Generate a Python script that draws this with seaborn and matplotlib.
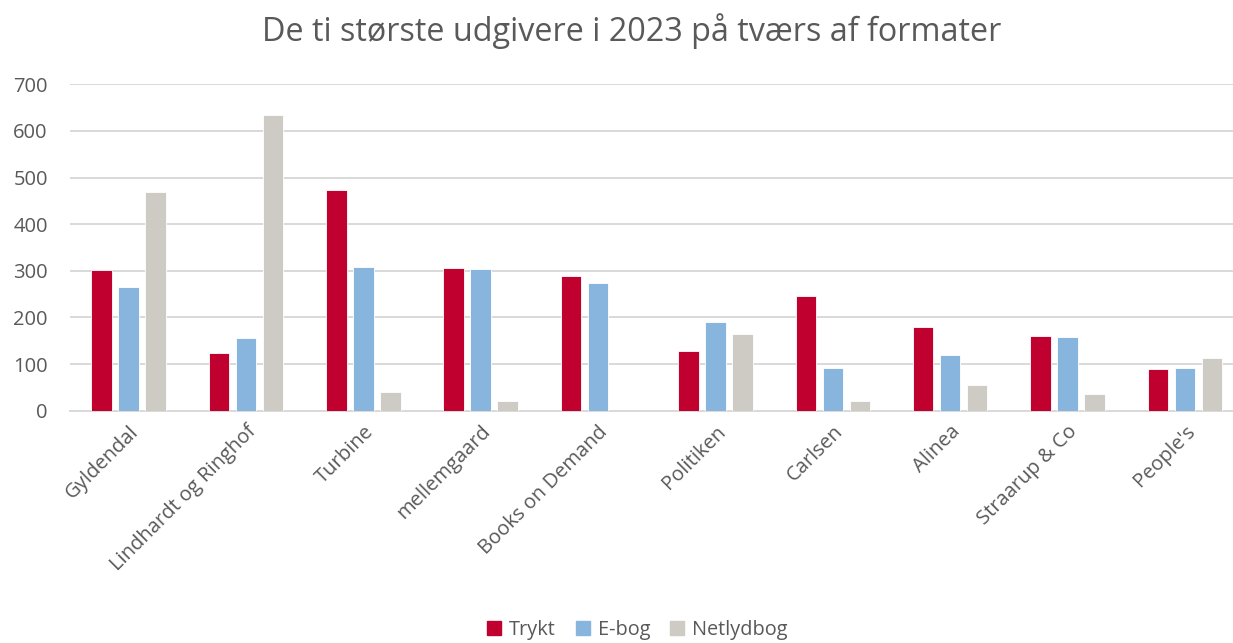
import matplotlib
matplotlib.use("Agg")
import matplotlib.pyplot as plt
import seaborn as sns
import pandas as pd

categories = ["Gyldendal", "Lindhardt og Ringhof", "Turbine", "mellemgaard", "Books on Demand",
              "Politiken", "Carlsen", "Alinea", "Straarup & Co", "People's"]
trykt = [302, 123, 474, 306, 289, 127, 247, 180, 160, 89]
ebog = [265, 155, 308, 304, 274, 190, 92, 119, 159, 92]
netlydbog = [468, 635, 40, 21, 0, 164, 20, 55, 35, 114]
series = ["Trykt", "E-bog", "Netlydbog"]
colors = ["#C0002E", "#87B5DE", "#CECBC4"]

rows = []
for s, vals in zip(series, [trykt, ebog, netlydbog]):
    for c, v in zip(categories, vals):
        rows.append({"Udgiver": c, "Format": s, "Antal": v})
df = pd.DataFrame(rows)

sns.set_theme(style="white")
plt.rcParams['font.family'] = ['Open Sans', 'DejaVu Sans']

fig = plt.figure(figsize=(12.33, 6.43), dpi=100)
ax = fig.add_axes([70/1233, 1 - 410.7/643, 1 - 70/1233, (410.7 - 84.3)/643])

sns.barplot(data=df, x="Udgiver", y="Antal", hue="Format", order=categories,
            hue_order=series, palette=colors, saturation=1, width=0.69, gap=0.24,
            edgecolor="white", linewidth=0.6, ax=ax, legend=True, zorder=3)

ax.set_ylim(0, 700)
ax.set_yticks(range(0, 701, 100))
ax.set_xlim(-0.5, 9.41)
ax.yaxis.grid(True, color="#D9D9D9", linewidth=1.4, zorder=0)
ax.set_axisbelow(True)
for sp in ["top", "right", "left"]:
    ax.spines[sp].set_visible(False)
ax.spines["bottom"].set_color("#D9D9D9")
ax.spines["bottom"].set_linewidth(1.4)
ax.set_xlabel("")
ax.set_ylabel("")
ax.tick_params(axis="y", labelsize=14.5, colors="#595959", length=0, pad=16)
ax.tick_params(axis="x", labelsize=14.5, colors="#595959", length=0, pad=8)
plt.setp(ax.get_xticklabels(), rotation=45, ha="right", rotation_mode="anchor", color="#595959")

fig.text(0.512, 0.952, "De ti største udgivere i 2023 på tværs af formater",
         ha="center", va="center", fontsize=23.3, color="#595959")

ax.legend_.remove()
handles = [plt.Rectangle((0, 0), 1, 1, color=c) for c in colors]
fig.legend(handles, series, loc="center", bbox_to_anchor=(0.517, 0.02), ncol=3,
           frameon=False, fontsize=14.3, handlelength=0.7, handleheight=0.7,
           handletextpad=0.4, columnspacing=1.0, labelcolor="#595959")

fig.savefig("out.png", dpi=100)
